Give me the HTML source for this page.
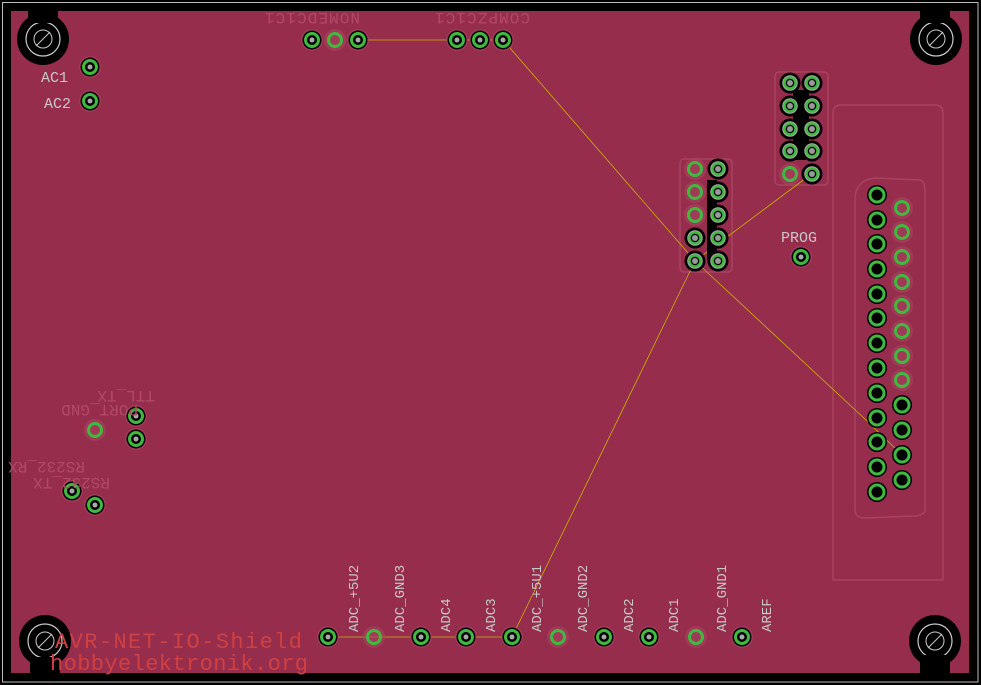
<!DOCTYPE html>
<html><head><meta charset="utf-8"><style>
html,body{margin:0;padding:0;background:#000;}
svg{display:block;}
text{font-family:"Liberation Mono","DejaVu Sans Mono",monospace;}
</style></head><body>
<svg width="981" height="685" viewBox="0 0 981 685" xmlns="http://www.w3.org/2000/svg">
<defs>
<g id="pg"><circle r="11" fill="#a8435f" opacity="0.6"/><circle r="9.5" fill="#000"/><circle r="6.5" fill="none" stroke="#3fb93f" stroke-width="3"/><circle r="2.5" fill="#aaa"/></g>
<g id="pr"><circle r="11" fill="#a8435f" opacity="0.6"/><circle r="6.5" fill="none" stroke="#3fb93f" stroke-width="3"/></g>
<g id="pd"><circle r="10" fill="#000"/><circle r="7" fill="none" stroke="#3fb93f" stroke-width="3"/></g>
<g id="ph"><circle r="10.5" fill="#000"/><circle r="7" fill="none" stroke="#aaa" stroke-width="1.5"/><circle r="5.5" fill="none" stroke="#3fb93f" stroke-width="2.5"/><circle r="3" fill="#999"/></g>
<g id="mh"><circle r="26" fill="#000"/><circle r="17" fill="none" stroke="#ccc" stroke-width="1.2"/><circle r="9" fill="none" stroke="#ccc" stroke-width="1"/><line x1="-7" y1="7" x2="7" y2="-7" stroke="#ccc"/></g>
</defs>
<rect x="0" y="0" width="981" height="685" fill="#000"/>
<rect x="2.5" y="2.5" width="975.5" height="679.5" fill="none" stroke="#bbb" stroke-width="1"/>
<rect x="11" y="11" width="958" height="662" fill="#962d4d"/>
<g fill="none" stroke="#a8435f" stroke-width="1.5">
<rect x="680" y="159" width="52" height="113" rx="4"/>
<rect x="775" y="72" width="53" height="113" rx="4"/>
<path d="M833 113 Q833 105 841 105 L935 105 Q943 105 943 113 L943 580 L833 580 Z"/>
<path d="M855 200 Q855 180 875 178 L920 180 Q925 182 925 190 L925 510 Q925 515 915 516 L865 518 Q855 518 855 510 Z"/>
</g>
<use href="#mh" x="43" y="39"/><use href="#mh" x="936" y="39"/><use href="#mh" x="45" y="641"/><use href="#mh" x="935" y="641"/>
<rect x="30" y="657" width="30" height="16" fill="#000"/>
<rect x="28" y="11" width="30" height="12" fill="#000"/>
<rect x="920" y="11" width="30" height="12" fill="#000"/>
<rect x="920" y="655" width="30" height="18" fill="#000"/>
<g stroke="#c8b400" stroke-width="0.8" fill="none">
<polyline points="358,40 503,40 695,261 866,420 902,455"/>
<polyline points="695,261 530,600 512,637 328,637"/>
<line x1="695" y1="261" x2="810" y2="175"/>
</g>
<use href="#pg" x="312" y="40"/><use href="#pr" x="335" y="40"/><use href="#pg" x="358" y="40"/>
<use href="#pg" x="457" y="40"/><use href="#pg" x="480" y="40"/><use href="#pg" x="503" y="40"/>
<use href="#pg" x="90" y="67"/><use href="#pg" x="90" y="101"/>
<use href="#pr" x="95" y="430"/><use href="#pg" x="136" y="416"/><use href="#pg" x="136" y="439"/>
<use href="#pg" x="72" y="491"/><use href="#pg" x="95" y="505"/>
<use href="#pg" x="801" y="257"/>
<rect x="707" y="180" width="10" height="80" fill="#000"/>
<rect x="793" y="90" width="16" height="70" fill="#000"/>
<use href="#pr" x="695" y="169"/><use href="#pr" x="695" y="192"/><use href="#pr" x="695" y="215"/><use href="#ph" x="695" y="238"/><use href="#ph" x="695" y="261"/>
<use href="#ph" x="718" y="169"/><use href="#ph" x="718" y="192"/><use href="#ph" x="718" y="215"/><use href="#ph" x="718" y="238"/><use href="#ph" x="718" y="261"/>
<use href="#ph" x="790" y="83"/><use href="#ph" x="790" y="106"/><use href="#ph" x="790" y="129"/><use href="#ph" x="790" y="151"/><use href="#pr" x="790" y="174"/>
<use href="#ph" x="812" y="83"/><use href="#ph" x="812" y="106"/><use href="#ph" x="812" y="129"/><use href="#ph" x="812" y="151"/><use href="#ph" x="812" y="174"/>
<use href="#pd" x="877" y="195"/><use href="#pd" x="877" y="220"/><use href="#pd" x="877" y="244"/><use href="#pd" x="877" y="269"/><use href="#pd" x="877" y="294"/><use href="#pd" x="877" y="318"/><use href="#pd" x="877" y="343"/><use href="#pd" x="877" y="368"/><use href="#pd" x="877" y="393"/><use href="#pd" x="877" y="418"/><use href="#pd" x="877" y="442"/><use href="#pd" x="877" y="467"/><use href="#pd" x="877" y="492"/>
<use href="#pr" x="902" y="208"/><use href="#pr" x="902" y="232"/><use href="#pr" x="902" y="257"/><use href="#pr" x="902" y="282"/><use href="#pr" x="902" y="306"/><use href="#pr" x="902" y="331"/><use href="#pr" x="902" y="356"/><use href="#pr" x="902" y="380"/>
<use href="#pd" x="902" y="405"/><use href="#pd" x="902" y="430"/><use href="#pd" x="902" y="455"/><use href="#pd" x="902" y="480"/>
<use href="#pg" x="328" y="637"/><use href="#pr" x="374" y="637"/><use href="#pg" x="421" y="637"/><use href="#pg" x="466" y="637"/><use href="#pg" x="512" y="637"/><use href="#pr" x="558" y="637"/><use href="#pg" x="604" y="637"/><use href="#pg" x="649" y="637"/><use href="#pr" x="696" y="637"/><use href="#pg" x="742" y="637"/>
<g fill="#c8c8c8" font-size="15">
<text x="41" y="82">AC1</text><text x="44" y="108">AC2</text>
<text x="781" y="242">PROG</text>
<g font-size="14">
<text transform="translate(358,632) rotate(-90)">ADC_+5U2</text>
<text transform="translate(404,632) rotate(-90)">ADC_GND3</text>
<text transform="translate(450,632) rotate(-90)">ADC4</text>
<text transform="translate(495,632) rotate(-90)">ADC3</text>
<text transform="translate(541,632) rotate(-90)">ADC_+5U1</text>
<text transform="translate(587,632) rotate(-90)">ADC_GND2</text>
<text transform="translate(633,632) rotate(-90)">ADC2</text>
<text transform="translate(678,632) rotate(-90)">ADC1</text>
<text transform="translate(726,632) rotate(-90)">ADC_GND1</text>
<text transform="translate(771,632) rotate(-90)">AREF</text>
</g>
</g>
<g fill="#b04a68" font-size="16">
<text transform="translate(360,13) scale(-1,-1)" textLength="95">NOMEDC1C1</text>
<text transform="translate(530,13) scale(-1,-1)" textLength="95">COMPZC1C1</text>
<text transform="translate(155,391) scale(-1,-1)">TTL_TX</text>
<text transform="translate(138,405) scale(-1,-1)">PORT_GND</text>
<text transform="translate(85,462) scale(-1,-1)">RS232_RX</text>
<text transform="translate(110,478) scale(-1,-1)">RS232_TX</text>
</g>
<g fill="#d04040" font-size="22">
<text x="55" y="648" textLength="247">AVR-NET-IO-Shield</text>
<text x="50" y="670" textLength="258">hobbyelektronik.org</text>
</g>
</svg>
</body></html>
